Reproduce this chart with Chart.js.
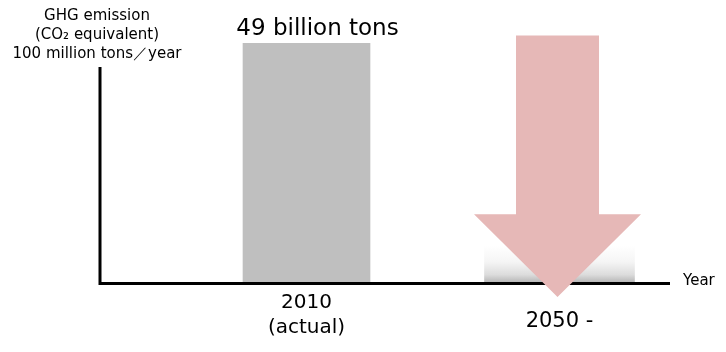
<!DOCTYPE html>
<html><head><meta charset="utf-8">
<script src="https://cdn.jsdelivr.net/npm/chart.js@4"></script>
<style>html,body{margin:0;padding:0;background:#fff}#wrap{width:726px;height:352px;position:relative}</style>
</head><body><div id="wrap"><canvas id="c"></canvas></div>
<script>
// ---- data ----
const categories = [['2010', '(actual)'], ['', '2050 -']];
const actualValues = [49, null];      // 100 million tons / year
const futureValues = [null, 7.5];     // target (small residual)
const barLabels = ['49 billion tons', ''];
const yTitleLines = ['GHG emission', '(CO\u2082 equivalent)', '100 million tons\uFF0Fyear'];
const xTitle = 'Year';
const arrowValues = [50.6, 13.9, -3.1]; // arrow top, head base, tip (data units)

const FONT = "'DejaVu Sans', sans-serif";

const decor = {
  id: 'decor',
  beforeDatasetsDraw(chart) {
    const c = chart.ctx, a = chart.chartArea;
    c.save();
    c.strokeStyle = '#000';
    c.lineWidth = 3;
    c.beginPath();
    c.moveTo(a.left - 80, a.bottom + 1.5);
    c.lineTo(a.right - 16, a.bottom + 1.5);
    c.moveTo(a.left - 80, a.bottom + 3);
    c.lineTo(a.left - 80, 67);
    c.stroke();
    // y title
    c.fillStyle = '#000';
    c.font = '15px ' + FONT;
    c.textAlign = 'center';
    c.textBaseline = 'middle';
    yTitleLines.forEach((t, i) => c.fillText(t, a.left - 83, 16 + i * 19));
    // x title
    c.textAlign = 'left';
    c.fillText(xTitle, a.right - 3, a.bottom - 1);
    c.restore();
  },
  afterDatasetsDraw(chart) {
    const c = chart.ctx, x = chart.scales.x, y = chart.scales.y;
    c.save();
    // value label
    const meta = chart.getDatasetMeta(0);
    meta.data.forEach((bar, i) => {
      if (!barLabels[i]) return;
      c.fillStyle = '#000';
      c.font = '23px ' + FONT;
      c.textAlign = 'center';
      c.textBaseline = 'alphabetic';
      c.fillText(barLabels[i], bar.x + 11, bar.y - 8);
    });
    // reduction arrow
    const cx = x.getPixelForValue(1) - 2;
    const yTop = y.getPixelForValue(arrowValues[0]);
    const yHead = y.getPixelForValue(arrowValues[1]);
    const yTip = y.getPixelForValue(arrowValues[2]);
    c.fillStyle = '#e6b8b7';
    c.beginPath();
    c.moveTo(cx - 41.5, yTop);
    c.lineTo(cx + 41.5, yTop);
    c.lineTo(cx + 41.5, yHead);
    c.lineTo(cx + 83.5, yHead);
    c.lineTo(cx, yTip);
    c.lineTo(cx - 83.5, yHead);
    c.lineTo(cx - 41.5, yHead);
    c.closePath();
    c.fill();
    c.restore();
  }
};

new Chart(document.getElementById('c'), {
  type: 'bar',
  data: {
    labels: categories,
    datasets: [
      { data: actualValues, backgroundColor: '#bfbfbf', barThickness: 127 },
      { data: futureValues, barThickness: 150,
        backgroundColor: (ctx) => {
          const ch = ctx.chart, a = ch.chartArea;
          if (!a) return '#eeeeee';
          const y = ch.scales.y;
          const g = ch.ctx.createLinearGradient(0, y.getPixelForValue(futureValues[1]), 0, y.getPixelForValue(0));
          g.addColorStop(0, '#ffffff');
          g.addColorStop(0.45, '#f5f5f5');
          g.addColorStop(0.8, '#dcdcdc');
          g.addColorStop(1, '#b8b8b8');
          return g;
        } }
    ]
  },
  options: {
    responsive: true,
    maintainAspectRatio: false,
    animation: false,
    grouped: false,
    skipNull: true,
    layout: { padding: { left: 180, right: 40, top: 14, bottom: 0 } },
    plugins: { legend: { display: false }, tooltip: { enabled: false } },
    scales: {
      x: {
        grid: { display: false, drawTicks: false },
        border: { display: false },
        afterFit: (s) => { s.height = 70; },
        ticks: {
          padding: 8,
          color: '#000',
          maxRotation: 0,
          autoSkip: false,
          font: (ctx) => ctx.index === 1
            ? { family: FONT, size: 21, lineHeight: 1.0 }
            : { family: FONT, size: 20, lineHeight: 1.25 }
        }
      },
      y: { display: false, min: 0, max: 55 }
    }
  },
  plugins: [decor]
});
</script>
</body></html>
